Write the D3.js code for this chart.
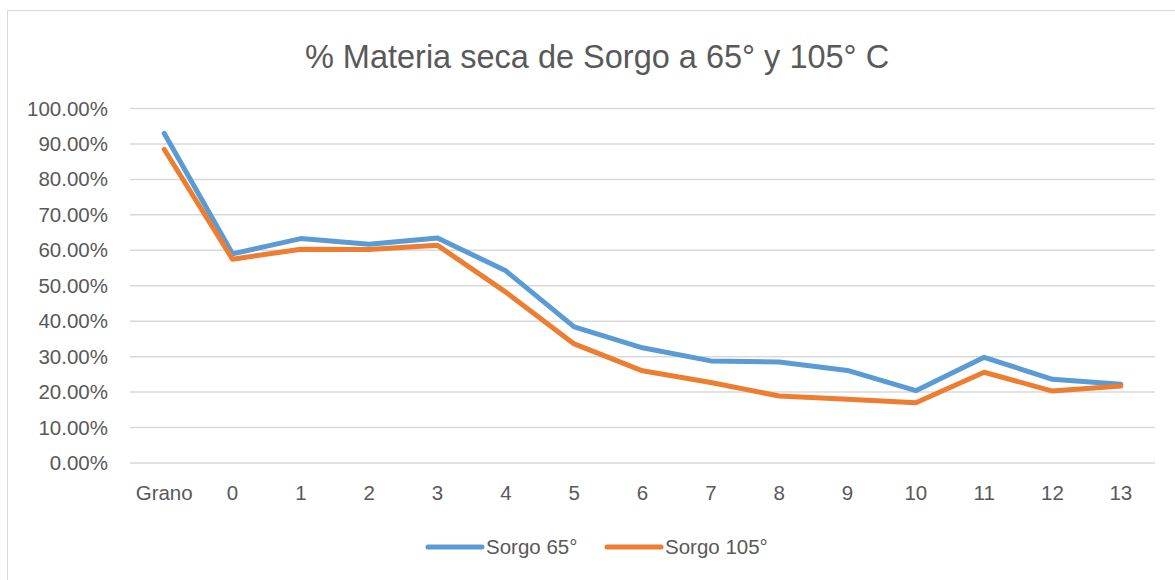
<!DOCTYPE html>
<html>
<head>
<meta charset="utf-8">
<script src="https://cdn.jsdelivr.net/npm/d3@7"></script>
<style>
  body { margin: 0; background: #fff; }
  text { font-family: "Liberation Sans", Arial, sans-serif; fill: #595959; }
</style>
</head>
<body>
<div id="chart"></div>
<script>
var categories = ['Grano', '0', '1', '2', '3', '4', '5', '6', '7', '8', '9', '10', '11', '12', '13'];
var sorgo65 = [93.0, 59.0, 63.3, 61.7, 63.5, 54.2, 38.4, 32.5, 28.8, 28.5, 26.1, 20.4, 29.8, 23.6, 22.2];
var sorgo105 = [88.5, 57.5, 60.3, 60.2, 61.4, 48.2, 33.6, 26.0, 22.7, 18.9, 18.0, 17.0, 25.6, 20.3, 21.7];
var yTicks = [0, 10, 20, 30, 40, 50, 60, 70, 80, 90, 100];
var seriesNames = ['Sorgo 65°', 'Sorgo 105°'];
var colors = ['#5B9BD5', '#ED7D31'];

var W = 1175, H = 580;
var margin = { top: 108.5, right: 20, bottom: 117, left: 130 };
var width = 1155 - margin.left,
    height = 463 - margin.top;

var svg = d3.select('#chart').append('svg')
    .attr('width', W)
    .attr('height', H);

// chart area border
svg.append('rect')
    .attr('x', 7.5).attr('y', 10.5)
    .attr('width', 1200).attr('height', 600)
    .attr('fill', 'none')
    .attr('stroke', '#d9d9d9')
    .attr('stroke-width', 1);

svg.append('text')
    .attr('x', 597)
    .attr('y', 68)
    .attr('text-anchor', 'middle')
    .style('font-size', '32.5px')
    .text('% Materia seca de Sorgo a 65° y 105° C');

var g = svg.append('g')
    .attr('transform', 'translate(' + margin.left + ',' + margin.top + ')');

var x = d3.scaleBand().domain(categories).range([0, width]);
var y = d3.scaleLinear().domain([0, 100]).range([height, 0]);

// gridlines
g.selectAll('.grid')
    .data(yTicks)
    .enter()
    .append('line')
    .attr('class', 'grid')
    .attr('x1', 0).attr('x2', width)
    .attr('y1', function(d) { return y(d); })
    .attr('y2', function(d) { return y(d); })
    .attr('stroke', '#d9d9d9')
    .attr('stroke-width', 1.5);

var yAxis = g.append('g')
    .call(d3.axisLeft(y).tickValues(yTicks).tickSize(0).tickPadding(22)
        .tickFormat(function(d) { return d.toFixed(2) + '%'; }));
yAxis.select('.domain').remove();
yAxis.selectAll('text')
    .style('font-size', '20.5px')
    .style('fill', '#595959')
    .style('font-family', '"Liberation Sans", Arial, sans-serif');

var xAxis = g.append('g')
    .attr('transform', 'translate(0,' + height + ')')
    .call(d3.axisBottom(x).tickSize(0).tickPadding(22));
xAxis.select('.domain').remove();
xAxis.selectAll('text')
    .style('font-size', '20.5px')
    .style('fill', '#595959')
    .style('font-family', '"Liberation Sans", Arial, sans-serif');

var line = d3.line()
    .x(function(d, i) { return x(categories[i]) + x.bandwidth() / 2; })
    .y(function(d) { return y(d); });

[sorgo65, sorgo105].forEach(function(s, i) {
    g.append('path')
        .datum(s)
        .attr('d', line)
        .attr('fill', 'none')
        .attr('stroke', colors[i])
        .attr('stroke-width', 5)
        .attr('stroke-linejoin', 'round')
        .attr('stroke-linecap', 'round');
});

// legend
var legendX = [428, 607];
var legend = svg.selectAll('.legend')
    .data(seriesNames)
    .enter()
    .append('g')
    .attr('class', 'legend')
    .attr('transform', function(d, i) { return 'translate(' + legendX[i] + ',547)'; });

legend.append('line')
    .attr('x1', 0).attr('x2', 54)
    .attr('stroke', function(d, i) { return colors[i]; })
    .attr('stroke-width', 5)
    .attr('stroke-linecap', 'round');

legend.append('text')
    .attr('x', 58)
    .attr('dy', '0.35em')
    .style('font-size', '20.5px')
    .text(function(d) { return d; });
</script>
</body>
</html>
